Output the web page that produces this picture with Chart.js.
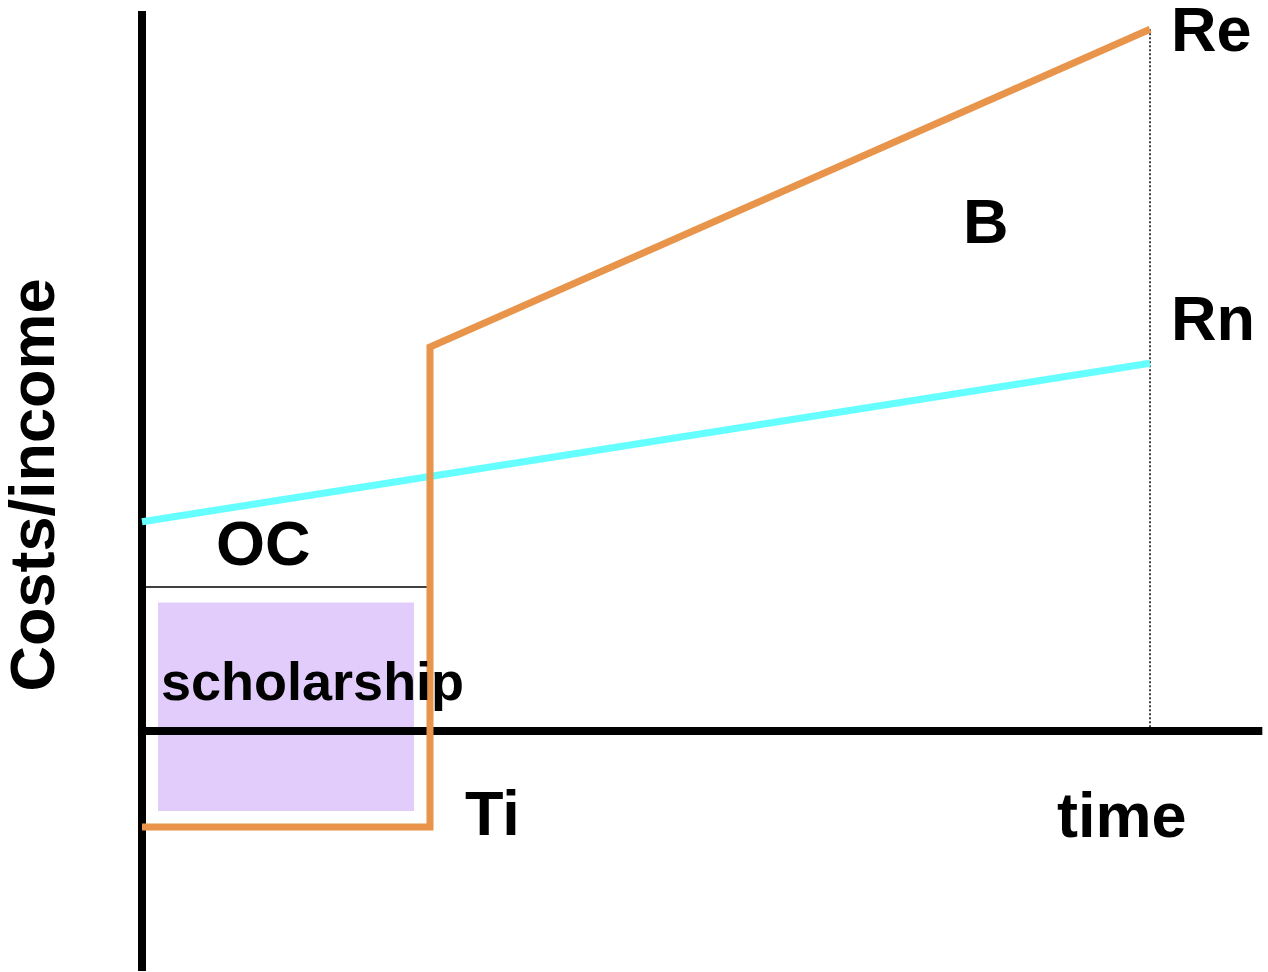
<!DOCTYPE html>
<html>
<head>
<meta charset="utf-8">
<script src="https://cdn.jsdelivr.net/npm/chart.js@4.4.1/dist/chart.umd.min.js"></script>
<style>
  html, body { margin: 0; padding: 0; background: #ffffff; }
  #wrap { width: 1268px; height: 972px; position: relative; }
</style>
</head>
<body>
<div id="wrap"><canvas id="c"></canvas></div>
<script>
// ---- data (time in arbitrary units, Ti = 2, end of horizon = 7) ----
const educTime      = [0, 2, 2, 7];          // education path time points
const educIncome    = [-1, -1, 4, 7.31];     // costs during study, then Re income
const nonEducTime   = [0, 7];
const nonEducIncome = [2.18, 3.83];          // Rn income path
const ocLevel       = 1.5;                   // opportunity cost reference level
const ocTime        = [0.02, 2];
const scholarTime   = [0.111, 1.889];
const scholarTop    = 1.333;
const scholarBottom = -0.833;
const horizonTime   = 7;
const axisYRange    = [-2.5, 7.5];
const axisXRange    = [-0.028, 7.78];

// label texts with anchors (data units)
const labelTexts = ['Re', 'Rn', 'B', 'OC', 'scholarship', 'Ti', 'time'];
const labelX     = [7.146, 7.146, 5.701, 0.514, 0.132, 2.243, 6.354];
const labelY     = [7.083, 4.073, 5.083, 1.729, 0.323, -1.083, -1.104];
const yTitle     = 'Costs/income';

const pts = (xs, ys) => xs.map((x, i) => ({ x: x, y: ys[i] }));

const ORANGE = '#E8944A';
const CYAN   = '#66FFFF';
const PURPLE = '#E2CCFB';

const labelPlugin = {
  id: 'labels',
  afterDatasetsDraw(chart) {
    const ctx = chart.ctx;
    const sx = chart.scales.x, sy = chart.scales.y;
    ctx.save();
    ctx.fillStyle = '#000';
    ctx.textBaseline = 'alphabetic';
    ctx.textAlign = 'left';
    labelTexts.forEach((t, i) => {
      const size = t === 'scholarship' ? 54 : 63;
      ctx.font = 'bold ' + size + 'px "Liberation Sans", Arial, sans-serif';
      ctx.fillText(t, sx.getPixelForValue(labelX[i]), sy.getPixelForValue(labelY[i]));
    });
    // rotated y-axis title
    ctx.font = 'bold 63px "Liberation Sans", Arial, sans-serif';
    ctx.translate(sx.getPixelForValue(-0.61), sy.getPixelForValue(2.5625));
    ctx.rotate(-Math.PI / 2);
    ctx.textAlign = 'center';
    ctx.fillText(yTitle, 0, 0);
    ctx.restore();
  }
};

new Chart(document.getElementById('c'), {
  type: 'scatter',
  data: {
    datasets: [
      { // education path (orange)
        data: pts(educTime, educIncome),
        showLine: true, borderColor: ORANGE, borderWidth: 7, pointRadius: 0,
        borderJoinStyle: 'miter', fill: false, order: 1
      },
      { // non-education path (cyan)
        data: pts(nonEducTime, nonEducIncome),
        showLine: true, borderColor: CYAN, borderWidth: 7, pointRadius: 0,
        fill: false, order: 2
      },
      { // OC line
        data: pts(ocTime, [ocLevel, ocLevel]),
        showLine: true, borderColor: '#000', borderWidth: 1.5, pointRadius: 0,
        fill: false, order: 3
      },
      { // dotted horizon line
        data: pts([horizonTime, horizonTime], [educIncome[3], 0]),
        showLine: true, borderColor: '#000', borderWidth: 1.5, borderDash: [2, 2],
        pointRadius: 0, fill: false, order: 3
      },
      { // vertical axis
        data: pts([0, 0], axisYRange),
        showLine: true, borderColor: '#000', borderWidth: 8, pointRadius: 0,
        fill: false, order: 4
      },
      { // horizontal axis
        data: pts(axisXRange, [0, 0]),
        showLine: true, borderColor: '#000', borderWidth: 8, pointRadius: 0,
        fill: false, order: 4
      },
      { // scholarship box
        data: pts(scholarTime, [scholarTop, scholarTop]),
        showLine: true, borderColor: PURPLE, borderWidth: 1, pointRadius: 0,
        backgroundColor: PURPLE, fill: { value: scholarBottom }, order: 10
      }
    ]
  },
  options: {
    responsive: true,
    maintainAspectRatio: false,
    animation: false,
    events: [],
    layout: { padding: 0 },
    plugins: { legend: { display: false }, tooltip: { enabled: false } },
    scales: {
      x: { type: 'linear', display: false, min: -142 / 144, max: (1268 - 142) / 144 },
      y: { type: 'linear', display: false, min: -(972 - 731) / 96, max: 731 / 96 }
    }
  },
  plugins: [labelPlugin]
});
</script>
</body>
</html>
